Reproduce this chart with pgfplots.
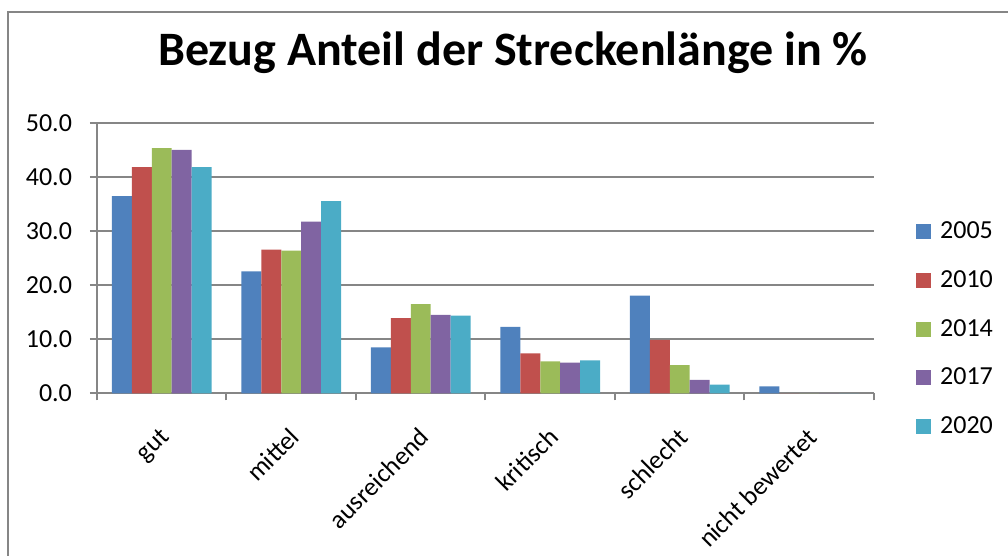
\documentclass[border=0pt]{standalone}
\usepackage{fontspec}
\setmainfont{Carlito}
\usepackage{pgfplots}
\pgfplotsset{compat=1.18}
\definecolor{c1}{HTML}{4F81BD}
\definecolor{c2}{HTML}{C0504D}
\definecolor{c3}{HTML}{9BBB59}
\definecolor{c4}{HTML}{8064A2}
\definecolor{c5}{HTML}{4BACC6}
\definecolor{axgray}{HTML}{868686}
\begin{document}
\begin{tikzpicture}[x=0.5pt,y=0.5pt]
\useasboundingbox (0,0) rectangle (1008,556);
\draw[axgray, line width=1pt] (8,0) -- (8,544) -- (1008,544);
\node[font=\fontsize{24}{28}\selectfont\bfseries, anchor=base, inner sep=0pt] at (513,490) {Bezug Anteil der Streckenlänge in \%};
\coordinate (A) at (97,162.7);
\begin{axis}[
  at={(A)}, anchor=south west,
  scale only axis, width=388.5pt, height=135pt,
  xmin=-0.5, xmax=5.5, ymin=0, ymax=50,
  ybar=0pt, bar width=0.1537,
  axis x line*=bottom, axis y line*=left,
  axis line style={axgray, line width=1pt, -},
  ymajorgrids, major grid style={axgray, line width=1pt},
  ytick={0,10,...,50},
  xtick={0,...,5},
  xticklabels={gut,mittel,ausreichend,kritisch,schlecht,nicht bewertet},
  major x tick style={draw=none},
  minor xtick={-0.5,0.5,...,5.5},
  minor x tick style={axgray, line width=1pt},
  y tick style={axgray, line width=1pt},
  tick align=outside,
  major tick length=3.5pt, minor tick length=3.5pt,
  /pgf/number format/.cd, fixed, fixed zerofill, precision=1, assume math mode=true,
  /pgfplots/.cd,
  yticklabel style={font=\fontsize{13}{15}\selectfont, xshift=-5.5pt},
  xticklabel style={font=\fontsize{13}{15}\selectfont, xshift=-1.5pt, yshift=-8pt, rotate=45, anchor=north east},
  legend cell align=left,
  legend image code/.code={\fill[#1] (0pt,-3.75pt) rectangle (7.5pt,3.75pt);},
  legend style={at={(1.046,0.238)}, anchor=west, draw=none, fill=none,
    font=\fontsize{13}{15}\selectfont, row sep=13.4pt, column sep=4.5pt,
    nodes={inner sep=0pt, text height=9pt, text depth=2pt}},
]
\addplot[fill=c1, draw=none] coordinates {(0,36.5) (1,22.6) (2,8.5) (3,12.3) (4,18.1) (5,1.3)};
\addplot[fill=c2, draw=none] coordinates {(0,41.9) (1,26.6) (2,13.9) (3,7.4) (4,9.9) (5,0)};
\addplot[fill=c3, draw=none] coordinates {(0,45.4) (1,26.4) (2,16.5) (3,5.9) (4,5.2) (5,0)};
\addplot[fill=c4, draw=none] coordinates {(0,45.1) (1,31.8) (2,14.5) (3,5.7) (4,2.5) (5,0)};
\addplot[fill=c5, draw=none] coordinates {(0,41.9) (1,35.6) (2,14.4) (3,6.1) (4,1.6) (5,0)};
\legend{2005,2010,2014,2017,2020}
\end{axis}
\end{tikzpicture}
\end{document}
